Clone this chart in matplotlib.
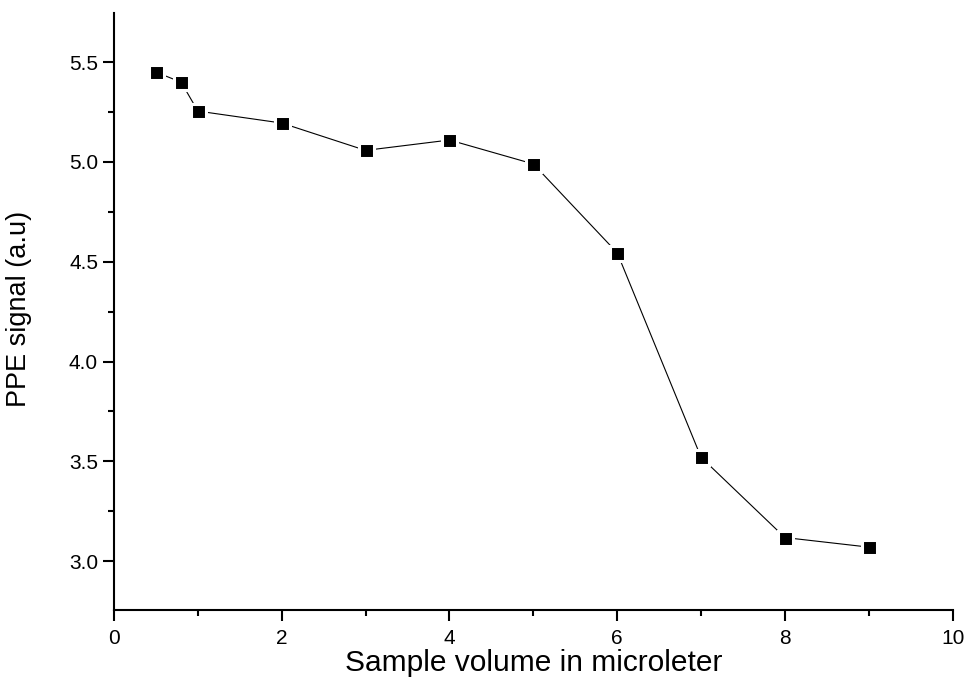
import matplotlib
matplotlib.use("Agg")
import matplotlib.pyplot as plt
from matplotlib.ticker import MultipleLocator

# PPE signal vs sample volume
volume = [0.5, 0.8, 1.0, 2, 3, 4, 5, 6, 7, 8, 9]
signal = [5.45, 5.40, 5.255, 5.195, 5.058, 5.11, 4.99, 4.545, 3.52, 3.118, 3.07]

plt.rcParams['font.family'] = ['Liberation Sans', 'DejaVu Sans']

fig = plt.figure(figsize=(9.77, 6.86), dpi=100)
ax = fig.add_axes([0.1167, 0.1108, 0.8584, 0.8707])

# white marker edge leaves a small gap between line and squares
ax.plot(volume, signal, color='black', linewidth=0.8,
        marker='s', markersize=10.8, markerfacecolor='black',
        markeredgecolor='white', markeredgewidth=2.2)

ax.set_xlim(0, 10)
ax.set_ylim(2.755, 5.748)
ax.xaxis.set_major_locator(MultipleLocator(2))
ax.xaxis.set_minor_locator(MultipleLocator(1))
ax.yaxis.set_major_locator(MultipleLocator(0.5))
ax.yaxis.set_minor_locator(MultipleLocator(0.25))
ax.yaxis.set_major_formatter(plt.FormatStrFormatter('%.1f'))

for side in ('top', 'right'):
    ax.spines[side].set_visible(False)
for side in ('left', 'bottom'):
    ax.spines[side].set_linewidth(1.5)

ax.tick_params(which='major', direction='out', length=8, width=1.5, labelsize=15)
ax.tick_params(axis='x', which='major', pad=6)
ax.tick_params(axis='y', which='major', pad=3.5)
ax.tick_params(which='minor', direction='out', length=4.5, width=1.5)

ax.set_xlabel('Sample volume in microleter', fontsize=21.5)
ax.set_ylabel('PPE signal (a.u)', fontsize=19.5)
ax.xaxis.set_label_coords(0.5, -0.065)
ax.yaxis.set_label_coords(-0.098, 0.504)

fig.savefig('out.png', dpi=100)
